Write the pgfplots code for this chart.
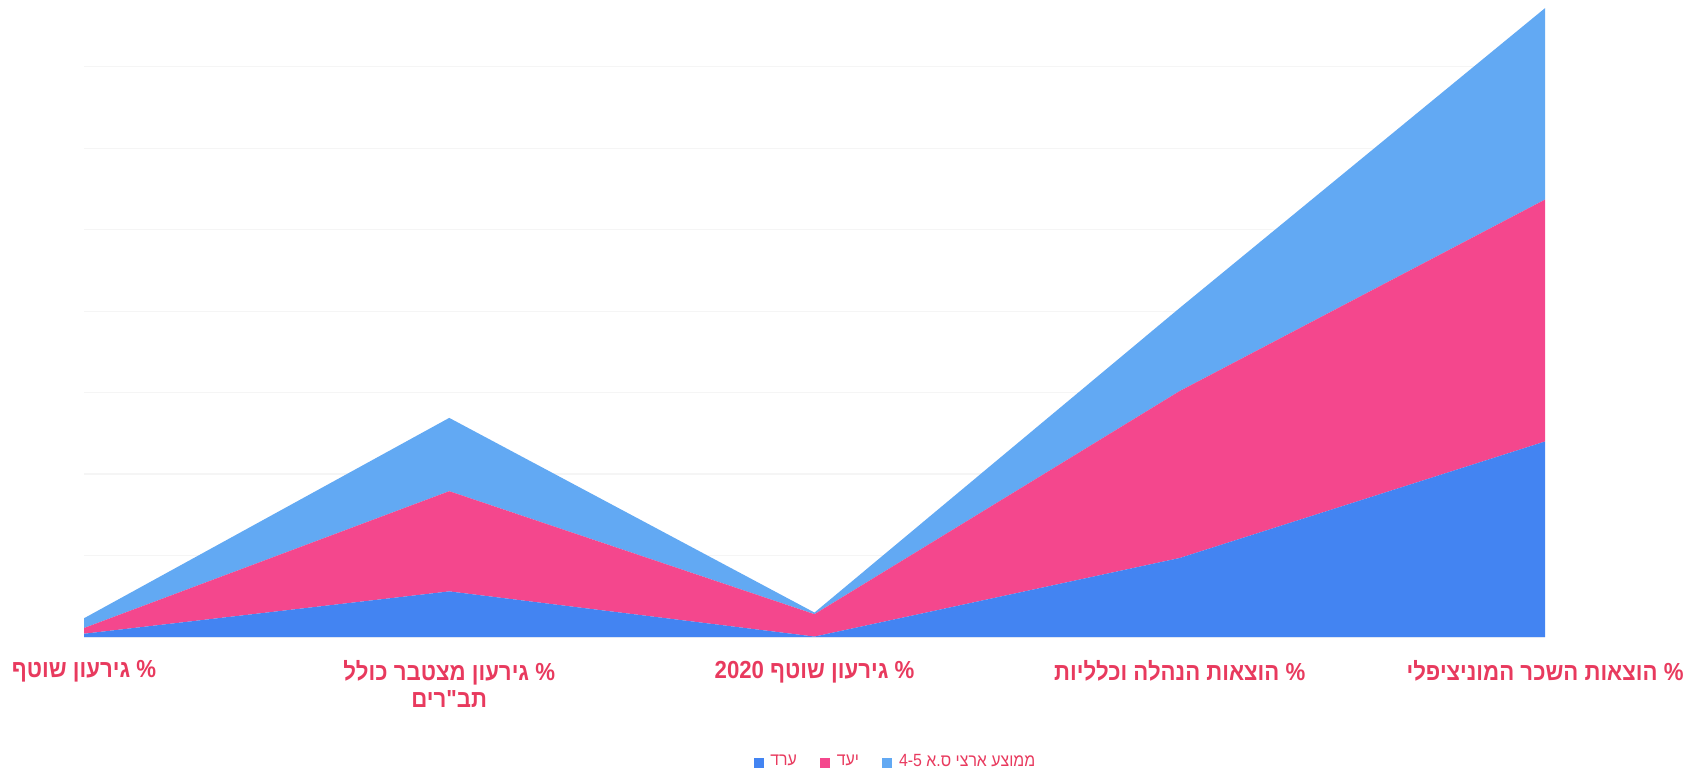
\documentclass[border=0pt]{standalone}
\usepackage{fontspec}
\setmainfont{Liberation Sans}
\newfontfamily\heb[Script=Hebrew,FakeStretch=0.9]{Liberation Sans}
\TeXXeTstate=1
\usepackage{pgfplots}
\pgfplotsset{compat=1.18}
\usetikzlibrary{calc}

\definecolor{arad}{HTML}{4384F2}
\definecolor{yaad}{HTML}{F4478D}
\definecolor{avg}{HTML}{62A9F3}
\definecolor{lbl}{HTML}{E83A5E}

\begin{document}
\begin{tikzpicture}
\begin{axis}[
    name=ax,
    scale only axis,
    width=438.3pt,
    height=191.1pt,
    xmin=0, xmax=4,
    ymin=0, ymax=78.2,
    xtick={0,1,2,3,4},
    xticklabels={
        {\beginR \% גירעון שוטף\endR},
        {\beginR \% גירעון מצטבר כולל\endR\\\beginR תב"רים\endR},
        {\beginR \% גירעון שוטף \beginL2020\endL\endR},
        {\beginR \% הוצאות הנהלה וכלליות\endR},
        {\beginR \% הוצאות השכר המוניציפלי\endR}
    },
    ytick={0,10,20,30,40,50,60,70},
    yticklabels={},
    ymajorgrids,
    grid style={draw=gray!8, line width=0.4pt},
    axis line style={draw=none},
    major tick length=0pt,
    xticklabel style={font=\heb\bfseries\fontsize{7.4}{7.9}\selectfont,
        text=lbl, align=center, yshift=-3.6pt},
    stack plots=y,
    legend columns=3,
    legend style={at={(0.557,-0.198)}, anchor=center, draw=none, fill=none,
        font=\heb\fontsize{5.3}{6}\selectfont, text=lbl,
        /tikz/every even column/.append style={column sep=5pt}},
    legend image code/.code={\fill[#1,draw=none] (0pt,-1.5pt) rectangle (3pt,1.5pt);},
]
\addplot[fill=arad, draw=none] coordinates {
    (0,0.4) (1,5.6) (2,0.05) (3,9.7) (4,24.0)
} \closedcycle;
\addlegendentry{\beginR ערד\endR}
\addplot[fill=yaad, draw=none] coordinates {
    (0,0.7) (1,12.3) (2,2.75) (3,20.5) (4,29.7)
} \closedcycle;
\addlegendentry{\beginR יעד\endR}
\addplot[fill=avg, draw=none] coordinates {
    (0,1.2) (1,9.0) (2,0.2) (3,10.2) (4,23.5)
} \closedcycle;
\addlegendentry{\beginR ממוצע ארצי ס.א \beginL4-5\endL\endR}
\end{axis}
\pgfresetboundingbox
\path ($(ax.south west)+(-25.2pt,-41.4pt)$) rectangle ($(ax.north east)+(44.1pt,0pt)$);
\end{tikzpicture}
\end{document}
